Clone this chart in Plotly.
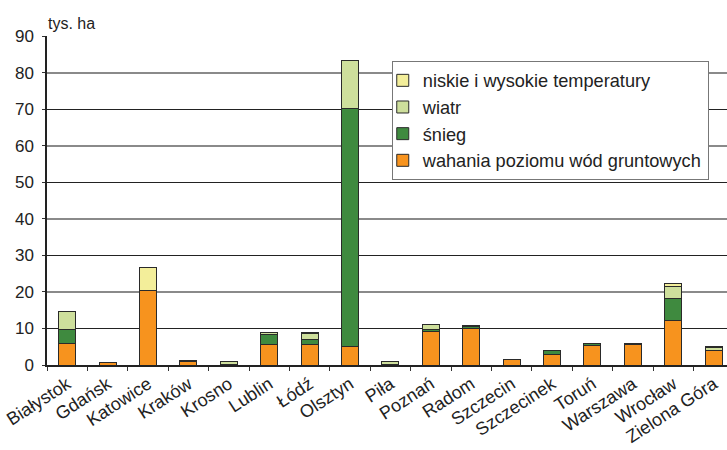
import plotly.graph_objects as go

# Regional offices and damaged stand area (thousand ha) by cause
regions = ["Białystok", "Gdańsk", "Katowice", "Kraków", "Krosno", "Lublin", "Łódź",
           "Olsztyn", "Piła", "Poznań", "Radom", "Szczecin", "Szczecinek", "Toruń",
           "Warszawa", "Wrocław", "Zielona Góra"]

groundwater = [5.9, 0.6, 20.3, 0.9, 0.1, 5.6, 5.6, 5.0, 0.1, 9.1, 10.0, 1.6, 2.9, 5.3, 5.6, 12.1, 3.9]
snow        = [3.8, 0.0, 0.0, 0.3, 0.0, 2.8, 1.5, 65.2, 0.0, 0.6, 0.4, 0.0, 1.0, 0.7, 0.4, 6.1, 0.1]
wind        = [4.8, 0.0, 0.0, 0.0, 0.8, 0.4, 1.4, 13.0, 0.8, 1.5, 0.3, 0.0, 0.0, 0.0, 0.0, 3.2, 0.7]
temperature = [0.0, 0.0, 6.5, 0.0, 0.0, 0.0, 0.4, 0.0, 0.0, 0.0, 0.1, 0.0, 0.0, 0.0, 0.0, 0.8, 0.4]

series = [
    ("wahania poziomu wód gruntowych", groundwater, "#F7931E"),
    ("śnieg", snow, "#3F8A3F"),
    ("wiatr", wind, "#CEDF9C"),
    ("niskie i wysokie temperatury", temperature, "#F3EE9A"),
]

y_ticks = [0, 10, 20, 30, 40, 50, 60, 70, 80, 90]

fig = go.Figure()
for name, values, color in series:
    fig.add_trace(go.Bar(
        x=regions, y=values, name=name, width=0.42,
        marker=dict(color=color, line=dict(color="#2a2a2a", width=1)),
    ))

# helper trace so the overlay axis carrying the alternating grid is drawn
fig.add_trace(go.Scatter(x=[regions[0]], y=[None], yaxis="y2",
                         showlegend=False, hoverinfo="skip"))

FONT = "Liberation Sans, Arial, sans-serif"

fig.update_layout(
    width=727, height=450,
    margin=dict(l=47, r=0, t=36, b=85),
    paper_bgcolor="white", plot_bgcolor="white",
    barmode="stack",
    font=dict(family=FONT, size=16, color="#222"),
    showlegend=True,
    legend=dict(
        x=0.507, y=0.924, xanchor="left", yanchor="top",
        traceorder="reversed", indentation=-10,
        bgcolor="white", bordercolor="#777", borderwidth=1,
        font=dict(family=FONT, size=18.2, color="#222"),
    ),
    xaxis=dict(
        type="category", range=[-0.5, 16.33],
        tickson="boundaries", ticks="outside", ticklen=4, tickcolor="#333",
        tickangle=-33, showline=True, linecolor="#222", linewidth=1.5,
        showgrid=False, tickfont=dict(family=FONT, size=18, color="#222"),
    ),
    yaxis=dict(
        range=[0, 90], tickmode="array", tickvals=y_ticks,
        ticks="outside", ticklen=3, tickcolor="#333", ticklabelstandoff=5,
        showline=True, linecolor="#222", linewidth=1.5,
        showgrid=False, zeroline=False,
        tickfont=dict(family=FONT, size=17, color="#222"),
    ),
    yaxis2=dict(
        overlaying="y", range=[0, 90], side="left",
        tick0=10, dtick=20, showticklabels=False, ticks="",
        showgrid=True, gridcolor="#222", gridwidth=1, zeroline=False,
        minor=dict(tick0=0, dtick=10, showgrid=True, gridcolor="#8a8a8a", gridwidth=1.6),
    ),
    annotations=[dict(
        text="tys. ha", xref="paper", yref="paper", x=-0.002, y=1.0,
        xanchor="left", yanchor="bottom", yshift=2, showarrow=False,
        font=dict(family=FONT, size=16, color="#222"),
    )],
)

fig.write_html("out.html")
